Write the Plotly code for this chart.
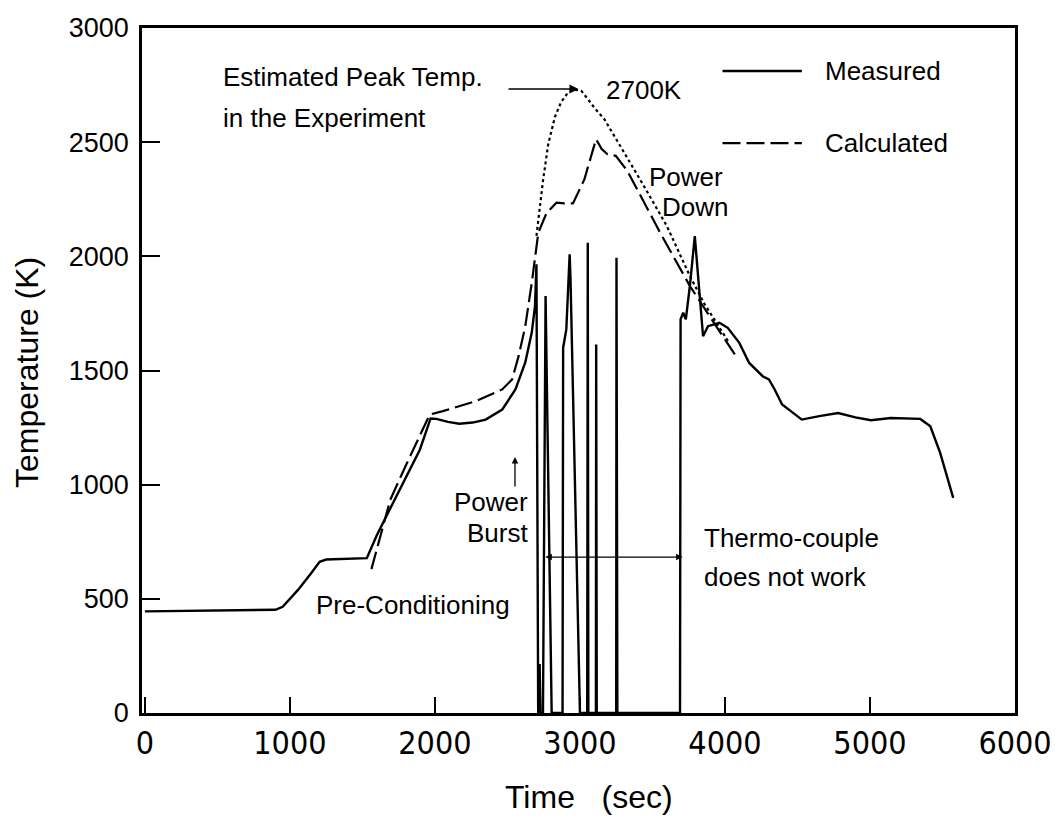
import plotly.graph_objects as go

# ---------------- data ----------------
meas_t = [0, 900, 950, 1056, 1150, 1205, 1250, 1530, 1600, 1700, 1826, 1896, 1970, 2010,
          2090, 2168, 2260, 2350, 2464, 2555, 2623, 2668, 2690, 2700,
          2712, 2720, 2722, 2728, 2745, 2763, 2805, 2880, 2884, 2906, 2929, 2935, 3000,
          3050, 3054, 3058, 3110, 3112, 3116, 3250, 3252, 3258, 3690,
          3694, 3712, 3730, 3758, 3792, 3826, 3849, 3883, 3962, 4019, 4099, 4167,
          4260, 4303, 4340, 4394, 4530, 4650, 4780, 4900, 5007, 5143, 5347, 5416,
          5484, 5574]
meas_T = [445, 452, 465, 539, 615, 662, 672, 678, 780, 905, 1066, 1153, 1290, 1288,
          1275, 1267, 1272, 1285, 1329, 1417, 1535, 1667, 1782, 1965,
          0, 0, 215, 0, 0, 1826, 0, 0, 1600, 1680, 2009, 1900, 0,
          0, 2060, 0, 0, 1614, 0, 0, 1994, 0, 0,
          1724, 1753, 1724, 1870, 2089, 1826, 1650, 1694, 1709, 1687, 1621, 1533,
          1475, 1461, 1420, 1351, 1285, 1300, 1314, 1295, 1282, 1292, 1288, 1256,
          1139, 942]

calc_t = [1562, 1692, 1800, 1964, 2055, 2282, 2464, 2532, 2577, 2623, 2668, 2690, 2713,
          2770, 2838, 2895, 2952, 3031, 3111, 3150, 3190, 3247, 3327, 3553, 3656,
          3758, 3985, 4076]
calc_T = [630, 934, 1085, 1307, 1322, 1366, 1417, 1461, 1563, 1694, 1885, 1987, 2104,
          2190, 2235, 2232, 2232, 2338, 2513, 2470, 2447, 2440, 2374, 2104, 1987,
          1870, 1650, 1563]

est_t = [2700, 2720, 2745, 2781, 2827, 2870, 2918, 2960, 3009, 3054, 3100, 3168, 3281,
         3440, 3599, 3758, 3860, 3962, 4030]
est_T = [2090, 2200, 2330, 2490, 2610, 2675, 2718, 2730, 2725, 2689, 2650, 2601, 2480,
         2309, 2133, 1914, 1790, 1690, 1620]

x_ticks = [0, 1000, 2000, 3000, 4000, 5000, 6000]
y_ticks = [0, 500, 1000, 1500, 2000, 2500, 3000]

FONT = "Liberation Sans, Arial, Helvetica, sans-serif"
NARROW = "Liberation Sans Narrow, DejaVu Sans Condensed, Arial Narrow, sans-serif"

fig = go.Figure()
fig.add_trace(go.Scatter(x=meas_t, y=meas_T, mode="lines",
                         line=dict(color="black", width=2.4), name="Measured",
                         showlegend=False))
fig.add_trace(go.Scatter(x=calc_t, y=calc_T, mode="lines",
                         line=dict(color="black", width=2.2, dash="18px,6px"),
                         name="Calculated", showlegend=False))
fig.add_trace(go.Scatter(x=est_t, y=est_T, mode="lines",
                         line=dict(color="black", width=2.2, dash="dot"),
                         name="Estimated", showlegend=False))

# legend samples drawn as data lines
fig.add_trace(go.Scatter(x=[3983, 4530], y=[2812, 2812], mode="lines",
                         line=dict(color="black", width=2.4), showlegend=False,
                         hoverinfo="skip"))
fig.add_trace(go.Scatter(x=[3983, 4530], y=[2496, 2496], mode="lines",
                         line=dict(color="black", width=2.2, dash="18px,6px"),
                         showlegend=False, hoverinfo="skip"))

ann = []
def txt(x, y, s, xa="left", size=26, ya="middle"):
    ann.append(dict(x=x, y=y, xref="x", yref="y", text=s, showarrow=False,
                    xanchor=xa, yanchor=ya, font=dict(family=FONT, size=size, color="black")))

txt(527, 2785, "Estimated Peak Temp.")
txt(527, 2606, "in the Experiment")
txt(3168, 2728, "2700K")
txt(4673, 2812, "Measured")
txt(4673, 2496, "Calculated")
txt(3729, 2347, "Power", xa="center")
txt(3791, 2216, "Down", xa="center")
txt(2655, 924, "Power", xa="right")
txt(2655, 788, "Burst", xa="right")
txt(1164, 473, "Pre-Conditioning")
txt(3845, 766, "Thermo-couple")
txt(3845, 596, "does not work")

# arrow to the peak
ann.append(dict(x=2990, y=2733, ax=2497, ay=2733, xref="x", yref="y", axref="x", ayref="y",
                text="", showarrow=True, arrowhead=2, arrowsize=1.2, arrowwidth=1.5,
                arrowcolor="black"))
# power burst arrow (pointing up)
ann.append(dict(x=2552, y=1121, ax=2552, ay=985, xref="x", yref="y", axref="x", ayref="y",
                text="", showarrow=True, arrowhead=2, arrowsize=1, arrowwidth=1.3,
                arrowcolor="black"))
# double-headed arrow for thermocouple failure
ann.append(dict(x=3708, y=683, ax=2751, ay=683, xref="x", yref="y", axref="x", ayref="y",
                text="", showarrow=True, arrowhead=2, startarrowhead=2, arrowside="end+start",
                arrowsize=1, arrowwidth=1.3, arrowcolor="black"))

# axis titles
ann.append(dict(x=0.5125, y=-0.1226, xref="paper", yref="paper",
                text="Time\u00a0\u00a0 (sec)", showarrow=False, xanchor="center", yanchor="middle",
                font=dict(family=FONT, size=32, color="black")))
ann.append(dict(x=-0.1318, y=0.4978, xref="paper", yref="paper", textangle=-90,
                text="Temperature (K)", showarrow=False, xanchor="center", yanchor="middle",
                font=dict(family=FONT, size=32, color="black")))

fig.update_layout(
    width=1064, height=822,
    margin=dict(l=142, r=42, t=28, b=109),
    paper_bgcolor="white", plot_bgcolor="white",
    annotations=ann,
    showlegend=False,
)
fig.update_xaxes(range=[-20, 6000], tickvals=x_ticks, ticktext=[str(v) for v in x_ticks],
                 ticks="inside", ticklen=16, tickwidth=1.5, tickcolor="black",
                 showline=True, linewidth=2.5, linecolor="black", mirror=True,
                 showgrid=False, zeroline=False,
                 tickfont=dict(family=NARROW, size=32, color="black"))
fig.update_yaxes(range=[0, 3000], tickvals=y_ticks, ticktext=[str(v) for v in y_ticks],
                 ticks="inside", ticklen=18, tickwidth=1.5, tickcolor="black",
                 showline=True, linewidth=2.5, linecolor="black", mirror=True,
                 showgrid=False, zeroline=False, ticklabelstandoff=5,
                 tickfont=dict(family=FONT, size=27, color="black"))

fig.write_html("out.html")
